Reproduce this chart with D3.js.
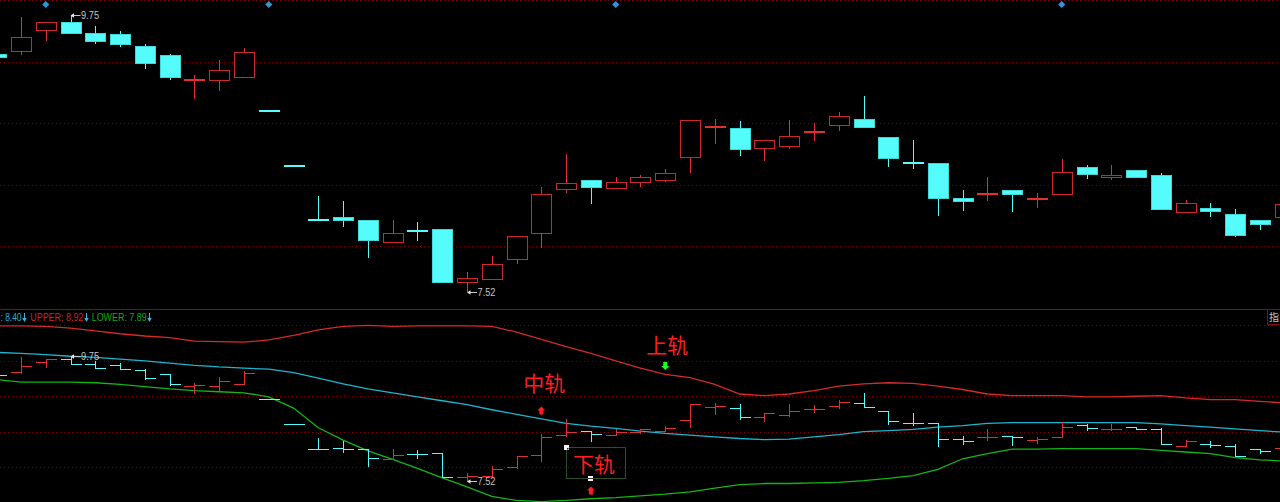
<!DOCTYPE html>
<html><head><meta charset="utf-8">
<script src="https://cdn.jsdelivr.net/npm/d3@7"></script>
<style>html,body{margin:0;padding:0;background:#000;overflow:hidden}svg{display:block}</style>
</head><body><svg id="c" width="1280" height="502"></svg>
<script>
// ---------- data ----------
const opens  = [9.44,9.47,9.64,9.70,9.61,9.60,9.51,9.43,9.23,9.23,9.26,8.99,8.54,8.11,8.12,8.10,7.92,8.02,8.03,7.60,7.62,7.78,7.99,8.35,8.42,8.36,8.41,8.42,8.61,8.85,8.84,8.68,8.70,8.81,8.87,8.92,8.77,8.57,8.56,8.28,8.31,8.34,8.27,8.31,8.53,8.45,8.50,8.46,8.16,8.20,8.15,8.10,8.12];
const highs  = [9.46,9.74,9.70,9.75,9.67,9.63,9.52,9.44,9.27,9.39,9.49,8.99,8.54,8.29,8.25,8.10,8.10,8.08,8.03,7.68,7.81,7.97,8.37,8.63,8.42,8.45,8.46,8.51,8.91,8.92,8.90,8.75,8.91,8.88,8.97,9.10,8.77,8.75,8.56,8.34,8.45,8.34,8.32,8.59,8.54,8.54,8.50,8.48,8.26,8.24,8.19,8.10,8.25];
const lows   = [9.40,9.43,9.55,9.61,9.52,9.50,9.32,9.23,9.08,9.14,9.26,8.99,8.54,8.11,8.04,7.79,7.92,7.93,7.60,7.52,7.61,7.74,7.87,8.32,8.23,8.35,8.37,8.41,8.48,8.71,8.62,8.58,8.67,8.74,8.82,8.84,8.53,8.51,8.13,8.17,8.25,8.16,8.20,8.31,8.43,8.42,8.44,8.19,8.16,8.12,7.96,8.02,8.11];
const closes = [9.42,9.58,9.70,9.61,9.55,9.52,9.37,9.26,9.24,9.31,9.46,8.99,8.54,8.11,8.10,7.94,7.99,8.01,7.60,7.63,7.74,7.97,8.31,8.40,8.37,8.41,8.45,8.48,8.91,8.86,8.67,8.75,8.78,8.82,8.94,8.85,8.60,8.56,8.28,8.25,8.32,8.31,8.28,8.49,8.47,8.46,8.45,8.19,8.24,8.17,7.98,8.07,8.23];
const upper  = [10.29,10.29,10.28,10.25,10.20,10.15,10.11,10.08,10.02,10.01,10.00,10.04,10.12,10.22,10.28,10.30,10.28,10.29,10.29,10.29,10.28,10.18,10.05,9.92,9.80,9.67,9.54,9.43,9.37,9.25,9.08,9.05,9.08,9.14,9.22,9.26,9.28,9.27,9.22,9.16,9.08,9.05,9.05,9.05,9.03,9.03,9.04,9.05,9.01,8.98,8.98,8.95,8.92];
const mid    = [9.82,9.80,9.78,9.75,9.73,9.70,9.67,9.63,9.59,9.56,9.54,9.52,9.46,9.36,9.26,9.17,9.10,9.03,8.96,8.89,8.80,8.72,8.64,8.56,8.51,8.47,8.42,8.38,8.35,8.32,8.29,8.27,8.28,8.32,8.36,8.41,8.43,8.45,8.49,8.52,8.56,8.57,8.57,8.57,8.57,8.57,8.57,8.55,8.52,8.49,8.46,8.43,8.40];
const lower  = [9.34,9.29,9.29,9.29,9.28,9.25,9.21,9.17,9.14,9.12,9.10,9.03,8.83,8.48,8.26,8.07,7.92,7.76,7.59,7.43,7.26,7.19,7.17,7.19,7.22,7.24,7.27,7.30,7.34,7.41,7.47,7.49,7.49,7.50,7.51,7.54,7.58,7.63,7.74,7.93,8.02,8.10,8.10,8.11,8.11,8.11,8.11,8.08,8.05,8.02,7.95,7.91,7.89];
const markerIdx = [2, 11, 25, 43];          // 信息地雷 diamonds
const legendNames = ["", "UPPER", "LOWER"];  // first name is clipped off in the reference
const notes = [
  {text:"上轨", idx:27, dir:"down"},
  {text:"中轨", idx:22, dir:"up"},
  {text:"下轨", idx:24, dir:"up"}
];

// ---------- setup ----------
const W = 1280, H = 502;
const svg = d3.select("#c");
svg.append("rect").attr("width", W).attr("height", H).attr("fill", "#000");
const n = opens.length;
const step = 24.78;
const x = d3.scaleBand().domain(d3.range(n)).range([-16.19, -16.19 + n * step]).padding(0);
const cx = i => x(i) + x.bandwidth() / 2;
const px = v => Math.round(v) + 0.5;
const yTop = d3.scaleLinear().domain([7.387, 9.879]).range([308, 0]);
const yBot = d3.scaleLinear().domain([7.153, 10.30]).range([502.5, 325.3]);

const UP = "#e03030", DN = "#54fcfc";
const col = i => {
  if (closes[i] > opens[i]) return UP;
  if (closes[i] < opens[i]) return DN;
  return (i > 0 && closes[i] < closes[i - 1]) ? DN : UP;
};
const grid = "#7a0000";

// ---------- grid lines ----------
const gTop = svg.append("g");
d3.range(5).forEach(k => {
  const yy = px(k * 308 / 5);
  gTop.append("line").attr("x1", 0).attr("x2", W).attr("y1", yy).attr("y2", yy)
    .attr("stroke", grid).attr("stroke-dasharray", "1,3").attr("stroke-width", 1);
});
d3.range(5).forEach(k => {
  const yy = px(325.3 + k * 35.44);
  gTop.append("line").attr("x1", 0).attr("x2", W).attr("y1", yy).attr("y2", yy)
    .attr("stroke", grid).attr("stroke-dasharray", "1,3").attr("stroke-width", 1);
});
svg.append("line").attr("x1", 0).attr("x2", W).attr("y1", 309.5).attr("y2", 309.5)
  .attr("stroke", "#8a0a0a").attr("stroke-width", 1);

// ---------- top candlesticks ----------
const gc = svg.append("g").attr("shape-rendering", "crispEdges");
d3.range(n).forEach(i => {
  const c = col(i), xc = px(cx(i));
  const yo = yTop(opens[i]), yc = yTop(closes[i]);
  const y1 = Math.round(Math.min(yo, yc)), y2 = Math.round(Math.max(yo, yc));
  const bh = Math.max(y2 - y1, 1);
  gc.append("line").attr("x1", xc).attr("x2", xc)
    .attr("y1", Math.round(yTop(highs[i]))).attr("y2", Math.round(yTop(lows[i])))
    .attr("stroke", c).attr("stroke-width", 1);
  const half = Math.round(x.bandwidth() * 0.405);
  const isUp = c === UP;
  gc.append("rect")
    .attr("x", Math.round(cx(i)) - half + 0.5).attr("y", y1 + 0.5)
    .attr("width", half * 2).attr("height", bh)
    .attr("fill", isUp ? "#000" : DN)
    .attr("stroke", isUp ? "#cc2a2a" : "#3fd8d8").attr("stroke-width", 1);
  if (bh <= 1) {
    gc.append("line").attr("x1", Math.round(cx(i)) - half).attr("x2", Math.round(cx(i)) + half + 1)
      .attr("y1", y1 + 1).attr("y2", y1 + 1).attr("stroke", c).attr("stroke-width", 2);
  }
});

// diamonds
markerIdx.forEach(i => {
  const xx = cx(i), yy = 4.5, r = 3.6;
  svg.append("path").attr("d", `M${xx},${yy - r}L${xx + r},${yy}L${xx},${yy + r}L${xx - r},${yy}Z`)
    .attr("fill", "#2f96d6");
});

// high / low labels
function priceLabel(xx, yy, txt) {
  const g = svg.append("g").attr("fill", "#c4c4c4").attr("stroke", "#c4c4c4");
  g.append("line").attr("x1", xx + 2).attr("x2", xx + 10).attr("y1", yy).attr("y2", yy).attr("stroke-width", 1);
  g.append("path").attr("d", `M${xx},${yy}L${xx + 3.5},${yy - 2.2}L${xx + 3.5},${yy + 2.2}Z`).attr("stroke", "none").attr("fill", "#e8e8e8");
  g.append("text").attr("x", xx + 10.5).attr("y", yy + 3.8).attr("stroke", "none")
    .attr("font-family", "Liberation Sans, Arial, sans-serif").attr("font-size", 10.5)
    .attr("textLength", 18).attr("lengthAdjust", "spacingAndGlyphs").text(txt);
}
const hiIdx = d3.maxIndex(highs), loIdx = d3.minIndex(lows);
priceLabel(cx(hiIdx), Math.round(yTop(highs[hiIdx])) - 0.5, highs[hiIdx].toFixed(2));
priceLabel(cx(loIdx), Math.round(yTop(lows[loIdx])) + 0.5, lows[loIdx].toFixed(2));

// ---------- bottom panel: BOLL lines ----------
const line = d3.line().x((d, i) => cx(i)).y(d => yBot(d));
svg.append("path").datum(upper).attr("d", line).attr("fill", "none").attr("stroke", "#d42a2a").attr("stroke-width", 1.3);
svg.append("path").datum(mid).attr("d", line).attr("fill", "none").attr("stroke", "#1fb4cc").attr("stroke-width", 1.3);
svg.append("path").datum(lower).attr("d", line).attr("fill", "none").attr("stroke", "#16b416").attr("stroke-width", 1.3);

// bottom OHLC bars
const gb = svg.append("g").attr("shape-rendering", "crispEdges");
d3.range(n).forEach(i => {
  const c = col(i), xc = Math.round(cx(i));
  const hh = Math.round(yBot(highs[i])), ll = Math.round(yBot(lows[i]));
  if (ll - hh >= 1)
    gb.append("line").attr("x1", xc + 0.5).attr("x2", xc + 0.5).attr("y1", hh).attr("y2", ll).attr("stroke", c);
  const yo = Math.round(yBot(opens[i])) + 0.5, yc = Math.round(yBot(closes[i])) + 0.5;
  gb.append("line").attr("x1", xc - 10).attr("x2", xc + 1).attr("y1", yo).attr("y2", yo).attr("stroke", c);
  gb.append("line").attr("x1", xc).attr("x2", xc + 11).attr("y1", yc).attr("y2", yc).attr("stroke", c);
});
priceLabel(cx(hiIdx), Math.round(yBot(highs[hiIdx])) + 0.5, highs[hiIdx].toFixed(2));
priceLabel(cx(loIdx), Math.round(yBot(lows[loIdx])) - 0.5, lows[loIdx].toFixed(2));

// ---------- legend ----------
const lg = svg.append("g").attr("font-family", "Liberation Sans, Arial, sans-serif").attr("font-size", 11);
const last = n - 1;
const legendVals = [mid[last], upper[last], lower[last]];
const legendCols = ["#1ab4d4", "#cc2424", "#14a814"];
const legendPos = [{start: 0.5, len: 21}, {start: 30.3, len: 53}, {start: 91.7, len: 55}];
const arrowX = [24.5, 86.5, 149.5];
legendNames.forEach((nm, k) => {
  lg.append("text").attr("y", 321).attr("fill", legendCols[k]).attr("x", legendPos[k].start)
    .attr("textLength", legendPos[k].len).attr("lengthAdjust", "spacingAndGlyphs")
    .text(nm ? `${nm}: ${legendVals[k].toFixed(2)}` : `: ${legendVals[k].toFixed(2)}`);
  const ax = arrowX[k];
  lg.append("line").attr("x1", ax).attr("x2", ax).attr("y1", 313).attr("y2", 320.5).attr("stroke", "#38b4e8").attr("stroke-width", 1);
  lg.append("path").attr("d", `M${ax - 2.2},${318}L${ax + 2.2},${318}L${ax},${322}Z`).attr("fill", "#38b4e8");
});
// indicator tab at right
svg.append("rect").attr("x", 1267.5).attr("y", 309.5).attr("width", 20).attr("height", 15)
  .attr("fill", "#000").attr("stroke", "#8a0a0a");
svg.append("text").attr("x", 1269).attr("y", 321).attr("fill", "#c8c8c8")
  .attr("font-family", "Noto Sans CJK SC, sans-serif").attr("font-size", 10).text("指");

// ---------- annotations ----------
const ag = svg.append("g").attr("font-family", "Noto Sans CJK SC, sans-serif").attr("font-size", 21).attr("fill", "#ff1e1e");
function arrow(xx, yTopA, dir, color) {
  const h = 8;
  let d;
  if (dir === "up") d = `M${xx},${yTopA}L${xx + 4},${yTopA + 4}L${xx + 2},${yTopA + 4}L${xx + 2},${yTopA + h}L${xx - 2},${yTopA + h}L${xx - 2},${yTopA + 4}L${xx - 4},${yTopA + 4}Z`;
  else d = `M${xx - 2},${yTopA}L${xx + 2},${yTopA}L${xx + 2},${yTopA + 4}L${xx + 4},${yTopA + 4}L${xx},${yTopA + h}L${xx - 4},${yTopA + 4}L${xx - 2},${yTopA + 4}Z`;
  svg.append("path").attr("d", d).attr("fill", color);
}
const n0 = notes[0], n1 = notes[1], n2 = notes[2];
ag.append("text").attr("x", cx(n0.idx) + 2).attr("y", 344).attr("text-anchor", "middle").attr("dominant-baseline", "central").text(n0.text);
arrow(cx(n0.idx), 362, n0.dir, "#1eff1e");
ag.append("text").attr("x", cx(n1.idx) + 3).attr("y", 382).attr("text-anchor", "middle").attr("dominant-baseline", "central").text(n1.text);
arrow(cx(n1.idx), 406.5, n1.dir, "#ff1e1e");
svg.append("rect").attr("x", 566.5).attr("y", 447.5).attr("width", 59).attr("height", 31)
  .attr("fill", "none").attr("stroke", "#2e4e26").attr("stroke-width", 1);
ag.append("text").attr("x", cx(n2.idx) + 3).attr("y", 463).attr("text-anchor", "middle").attr("dominant-baseline", "central").text(n2.text);
arrow(cx(n2.idx), 486.5, n2.dir, "#ff1e1e");
svg.append("rect").attr("x", 564).attr("y", 445).attr("width", 5).attr("height", 5).attr("fill", "#f4f4f4");
svg.append("rect").attr("x", 567).attr("y", 448).attr("width", 1.5).attr("height", 1.5).attr("fill", "#222");
svg.append("rect").attr("x", 588).attr("y", 476).attr("width", 5).attr("height", 5).attr("fill", "#f4f4f4");
svg.append("line").attr("x1", 588).attr("x2", 593).attr("y1", 478.5).attr("y2", 478.5).attr("stroke", "#333").attr("stroke-width", 1);
</script></body></html>
